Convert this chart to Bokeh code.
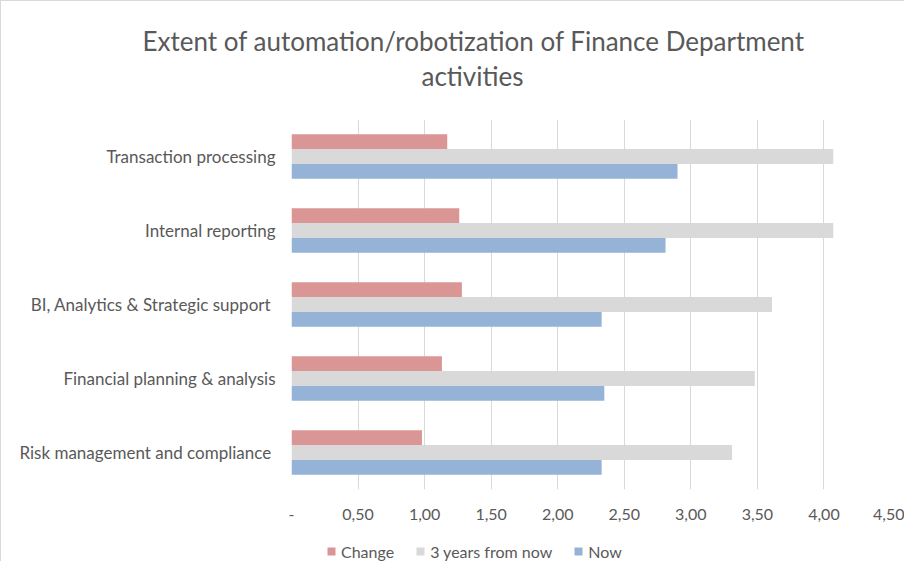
from bokeh.plotting import figure
from bokeh.layouts import column
from bokeh.models import (FactorRange, FixedTicker, CustomJSTickFormatter, Legend,
                          LegendItem, Title, ColumnDataSource)
from bokeh.transform import dodge
from bokeh.embed import file_html
from bokeh.resources import INLINE

# ---- data ----
categories = ["Risk management and compliance ", "Financial planning & analysis",
              "BI, Analytics & Strategic support ", "Internal reporting",
              "Transaction processing"]
now_vals = [2.33, 2.35, 2.33, 2.81, 2.90]
three_years_vals = [3.31, 3.48, 3.61, 4.07, 4.07]
change_vals = [0.98, 1.13, 1.28, 1.26, 1.17]
series_names = ["Change", "3 years from now", "Now"]
tick_values = [0, 0.5, 1.0, 1.5, 2.0, 2.5, 3.0, 3.5, 4.0, 4.5]
tick_labels = ["-", "0,50", "1,00", "1,50", "2,00", "2,50", "3,00", "3,50", "4,00", "4,50"]

FONT = "Lato"
TXT = "#595959"
colors = ["#DA9694", "#D9D9D9", "#95B3D7"]

src = ColumnDataSource(dict(cat=categories, now=now_vals, three=three_years_vals,
                            change=change_vals))
value_cols = ["change", "three", "now"]
offsets = [0.2, 0.0, -0.2]

# ---- main chart ----
p = figure(width=903, height=529, output_backend="svg", toolbar_location=None,
           y_range=FactorRange(factors=categories), x_range=(0, 4.5))
p.min_border_left = 290
p.min_border_right = 14
p.min_border_top = 118
p.min_border_bottom = 41
p.outline_line_color = None

for col, off, c in zip(value_cols, offsets, colors):
    p.hbar(y=dodge("cat", off, range=p.y_range), right=col, left=0, height=0.2,
           source=src, fill_color=c, line_color=None)

p.xaxis.ticker = FixedTicker(ticks=tick_values)
p.xaxis.formatter = CustomJSTickFormatter(args=dict(vals=tick_values, labs=tick_labels),
    code="const i = vals.findIndex(v => Math.abs(v - tick) < 1e-9); return i >= 0 ? labs[i] : '';")
for ax in (p.xaxis[0], p.yaxis[0]):
    ax.axis_line_color = None
    ax.major_tick_line_color = None
    ax.minor_tick_line_color = None
    ax.major_tick_out = 0
    ax.major_tick_in = 0
    ax.minor_tick_out = 0
    ax.major_label_text_font = FONT
    ax.major_label_text_color = TXT
p.xaxis.major_label_text_font_size = "16px"
p.xaxis.major_label_standoff = 19
p.yaxis.major_label_standoff = 16
p.yaxis.major_label_text_font_size = "17px"

p.xgrid.grid_line_color = "#D9D9D9"
p.xgrid.grid_line_width = 1
p.ygrid.grid_line_color = None

t2 = Title(text="activities", align="left", offset=130, text_font=FONT,
           text_font_size="26px", text_font_style="normal", text_color=TXT, standoff=0,
           padding=dict(left=0, right=0, top=0, bottom=28))
t1 = Title(text="Extent of automation/robotization of Finance Department", align="left",
           offset=-149, text_font=FONT, text_font_size="26px", text_font_style="normal",
           text_color=TXT, standoff=1)
p.add_layout(t2, "above")
p.add_layout(t1, "above")

# ---- legend strip (frames of the column are aligned with the main chart) ----
lg = figure(width=903, height=31, output_backend="svg", toolbar_location=None,
            x_axis_type=None, y_axis_type=None, x_range=(0, 4.5), y_range=(0, 1),
            min_border=0)
lg.outline_line_color = None
lg.xgrid.visible = False
lg.ygrid.visible = False
items = []
for name, col, c in zip(series_names, value_cols, colors):
    r = lg.hbar(y=0.5, right=col, left=0, height=0.2, source=src, fill_color=c,
                line_color=None, visible=False)
    items.append(LegendItem(label=name, renderers=[r]))
legend = Legend(items=items, orientation="horizontal", location=(35, 0),
                glyph_width=10, glyph_height=10, label_standoff=5, spacing=21,
                label_height=20, padding=0, margin=0, border_line_color=None,
                background_fill_alpha=0, inactive_fill_alpha=0,
                label_text_font=FONT, label_text_color=TXT, label_text_font_size="16px")
lg.add_layout(legend, "center")

layout = column(p, lg, spacing=0)
layout.styles = {"border-left": "1px solid #D9D9D9", "border-top": "1px solid #D9D9D9"}

open("out.html", "w").write(file_html(layout, INLINE))
